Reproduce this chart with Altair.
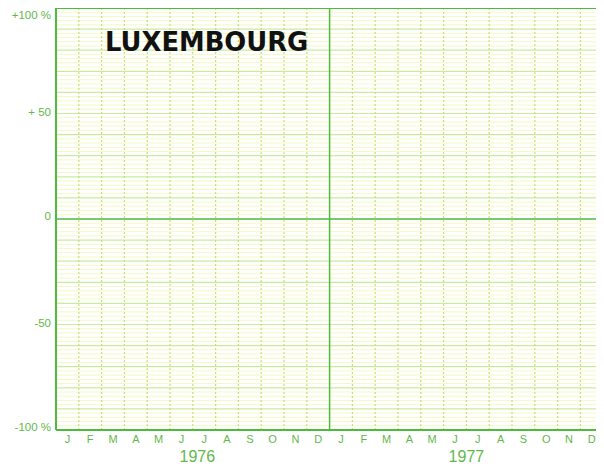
import altair as alt
import pandas as pd

# ---- data ----
title_text = "LUXEMBOURG"
months = ["J", "F", "M", "A", "M", "J", "J", "A", "S", "O", "N", "D"]
years = ["1976", "1977"]
y_tick_values = [100, 50, 0, -50, -100]
y_tick_labels = ["+100 %", "+ 50", "0", "-50", "-100 %"]
y_label_dy = [8, -1, -2, -1, -2]

# ---- layout ----
W, H = 540, 422
month_px = 22.8
x_max = W / month_px
x_scale = alt.Scale(domain=[0, x_max], nice=False, zero=False)
y_scale = alt.Scale(domain=[-100, 100], nice=False)

GREEN = "#4dbb3c"
LABEL_GREEN = "#5fb84a"

minor_df = pd.DataFrame({"y": [v for v in range(-98, 100, 2) if v % 10 != 0]})
major_df = pd.DataFrame({"y": [v for v in range(-90, 100, 10) if v != 0]})
vlines_df = pd.DataFrame({"x": [m for m in range(1, 24) if m != 12]})

minor = alt.Chart(minor_df).mark_rule(color="#f3f9c6", strokeWidth=1).encode(
    y=alt.Y("y:Q", scale=y_scale, axis=None))
major = alt.Chart(major_df).mark_rule(color="#c9ec9c", strokeWidth=1.2).encode(
    y=alt.Y("y:Q", scale=y_scale, axis=None))
vlines = alt.Chart(vlines_df).mark_rule(color="#c4e070", strokeWidth=1.2,
                                        strokeDash=[2, 2]).encode(
    x=alt.X("x:Q", scale=x_scale, axis=None))

zero_line = alt.Chart(pd.DataFrame({"y": [0]})).mark_rule(color=GREEN, strokeWidth=1.5).encode(
    y=alt.Y("y:Q", scale=y_scale, axis=None))
year_line = alt.Chart(pd.DataFrame({"x": [12]})).mark_rule(color=GREEN, strokeWidth=1.5).encode(
    x=alt.X("x:Q", scale=x_scale, axis=None))

border_h = alt.Chart(pd.DataFrame({"y": [-100, 100]})).mark_rule(color=GREEN, strokeWidth=2).encode(
    y=alt.Y("y:Q", scale=y_scale, axis=None))
border_v = alt.Chart(pd.DataFrame({"x": [0]})).mark_rule(color=GREEN, strokeWidth=2).encode(
    x=alt.X("x:Q", scale=x_scale, axis=None))

ylab_layers = []
for v, t, d in zip(y_tick_values, y_tick_labels, y_label_dy):
    df = pd.DataFrame({"x": [0], "y": [v], "t": [t]})
    ylab_layers.append(alt.Chart(df).mark_text(
        align="right", baseline="middle", dx=-5, dy=d, fontSize=11.5,
        font="Liberation Sans", color=LABEL_GREEN).encode(
        x=alt.X("x:Q", scale=x_scale, axis=None),
        y=alt.Y("y:Q", scale=y_scale, axis=None),
        text="t:N"))

mlab_df = pd.DataFrame({
    "x": [i + 0.5 + 12 * k for k in range(2) for i in range(12)],
    "y": [-100] * 24,
    "t": months * 2,
})
mlabels = alt.Chart(mlab_df).mark_text(
    align="center", baseline="middle", dy=10, fontSize=11,
    font="Liberation Sans", color=LABEL_GREEN).encode(
    x=alt.X("x:Q", scale=x_scale, axis=None),
    y=alt.Y("y:Q", scale=y_scale, axis=None),
    text="t:N")

ylab2_df = pd.DataFrame({"x": [6.2, 18.0], "y": [-100, -100], "t": years})
yearlabels = alt.Chart(ylab2_df).mark_text(
    align="center", baseline="middle", dy=27, fontSize=16,
    font="Liberation Sans", color=LABEL_GREEN).encode(
    x=alt.X("x:Q", scale=x_scale, axis=None),
    y=alt.Y("y:Q", scale=y_scale, axis=None),
    text="t:N")

title_df = pd.DataFrame({"x": [2.15], "y": [83.4], "t": [title_text]})
title = alt.Chart(title_df).mark_text(
    align="left", baseline="middle", fontSize=25.8, fontWeight="bold",
    font="DejaVu Sans", color="#111111").encode(
    x=alt.X("x:Q", scale=x_scale, axis=None),
    y=alt.Y("y:Q", scale=y_scale, axis=None),
    text="t:N")

chart = alt.layer(
    minor, major, vlines, zero_line, year_line, border_h, border_v,
    *ylab_layers, mlabels, yearlabels, title
).properties(
    width=W, height=H,
    autosize=alt.AutoSizeParams(type="none"),
    padding={"left": 48, "top": 0, "right": 0, "bottom": 38},
    background="white",
).configure_view(strokeWidth=0)

chart.save("out.html", embed_options={"renderer": "svg", "actions": False})
